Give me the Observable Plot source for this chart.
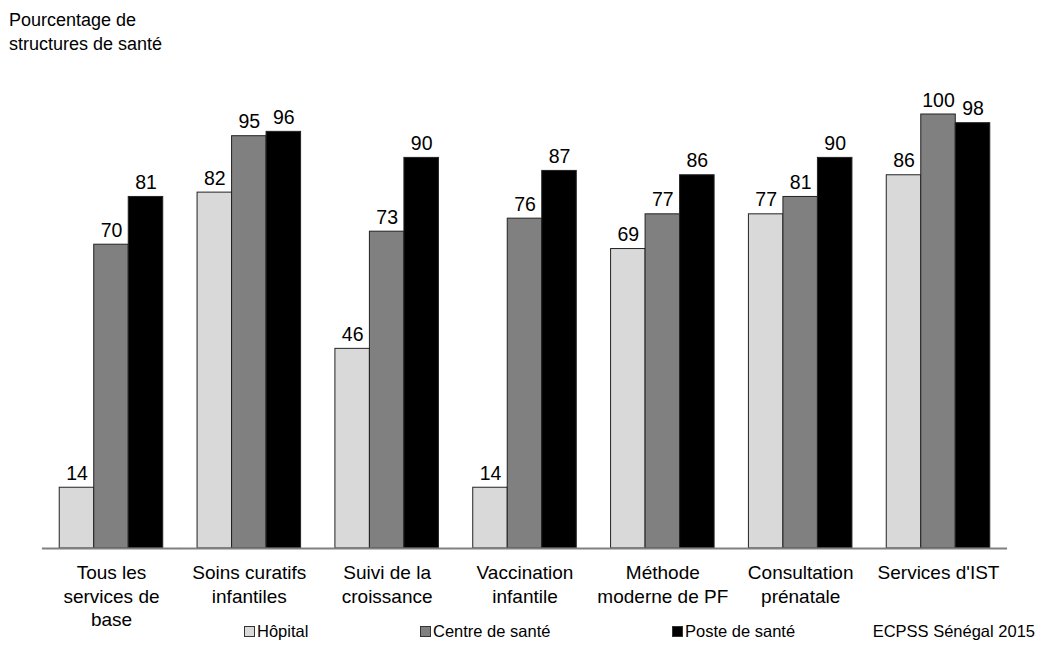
<!DOCTYPE html>
<html>
<head>
<meta charset="utf-8">
<script src="https://cdn.jsdelivr.net/npm/d3@7"></script>
<script src="https://cdn.jsdelivr.net/npm/@observablehq/plot@0.6"></script>
<style>
  html, body { margin: 0; padding: 0; background: #fff; }
  body { font-family: "Liberation Sans", Arial, sans-serif; color: #000; }
  #wrap { position: relative; width: 1041px; height: 646px; overflow: hidden; }
  #title { position: absolute; left: 9px; top: 8px; font-size: 18px; line-height: 24px; }
  #legend { position: absolute; left: 0; top: 622px; width: 1041px; height: 22px; font-size: 16.5px; }
  .item { position: absolute; top: 0; white-space: nowrap; display: flex; align-items: center; }
  .sw { display: inline-block; width: 9px; height: 9px; border: 1px solid #333; margin-right: 2px; }
  #caption { position: absolute; right: 6px; top: 0; white-space: nowrap; }
</style>
</head>
<body>
<div id="wrap">
  <div id="chart"></div>
  <div id="title">Pourcentage de<br>structures de santé</div>
  <div id="legend"></div>
</div>
<script>
const categories = [
  "Tous les\nservices de\nbase",
  "Soins curatifs\ninfantiles",
  "Suivi de la\ncroissance",
  "Vaccination\ninfantile",
  "Méthode\nmoderne de PF",
  "Consultation\nprénatale",
  "Services d'IST"
];
const types = ["Hôpital", "Centre de santé", "Poste de santé"];
const hopital = [14, 82, 46, 14, 69, 77, 86];
const centre  = [70, 95, 73, 76, 77, 81, 100];
const poste   = [81, 96, 90, 87, 86, 90, 98];
const colors  = ["#d9d9d9", "#808080", "#000000"];
const caption = "ECPSS Sénégal 2015";
const legendX = [244, 420, 672];

const series = [hopital, centre, poste];
const data = [];
categories.forEach((c, i) => {
  types.forEach((t, j) => data.push({cat: c, type: t, value: series[j][i]}));
});

const chart = Plot.plot({
  width: 1041,
  height: 646,
  marginLeft: 42,
  marginRight: 34,
  marginTop: 114,
  marginBottom: 98,
  style: {fontFamily: '"Liberation Sans", Arial, sans-serif', color: "#000", background: "#fff"},
  fx: {domain: categories, paddingInner: 0.249, paddingOuter: 0.125, round: false, axis: null, label: null},
  x: {domain: types, padding: 0, round: false, axis: null, label: null},
  y: {domain: [0, 100], axis: null, label: null},
  color: {domain: types, range: colors},
  marks: [
    Plot.barY(data, {fx: "cat", x: "type", y: "value", fill: "type", stroke: "#222", strokeWidth: 1}),
    Plot.ruleY([0], {stroke: "#808080", strokeWidth: 2, insetLeft: -17.3, insetRight: -17.3}),
    Plot.text(data, {fx: "cat", x: "type", y: "value", text: d => String(d.value),
      lineAnchor: "bottom", dy: -8, fontSize: 19.5, fill: "#000"}),
    Plot.axisFx({anchor: "bottom", tickSize: 0, tickPadding: 14, fontSize: 19, lineHeight: 1.24, label: null, fill: "#000"})
  ]
});
document.getElementById("chart").appendChild(chart);

const legend = document.getElementById("legend");
types.forEach((t, j) => {
  const it = document.createElement("div");
  it.className = "item";
  it.style.left = legendX[j] + "px";
  const sw = document.createElement("span");
  sw.className = "sw";
  sw.style.background = colors[j];
  it.appendChild(sw);
  it.appendChild(document.createTextNode(t));
  legend.appendChild(it);
});
const cap = document.createElement("div");
cap.id = "caption";
cap.textContent = caption;
legend.appendChild(cap);
</script>
</body>
</html>
